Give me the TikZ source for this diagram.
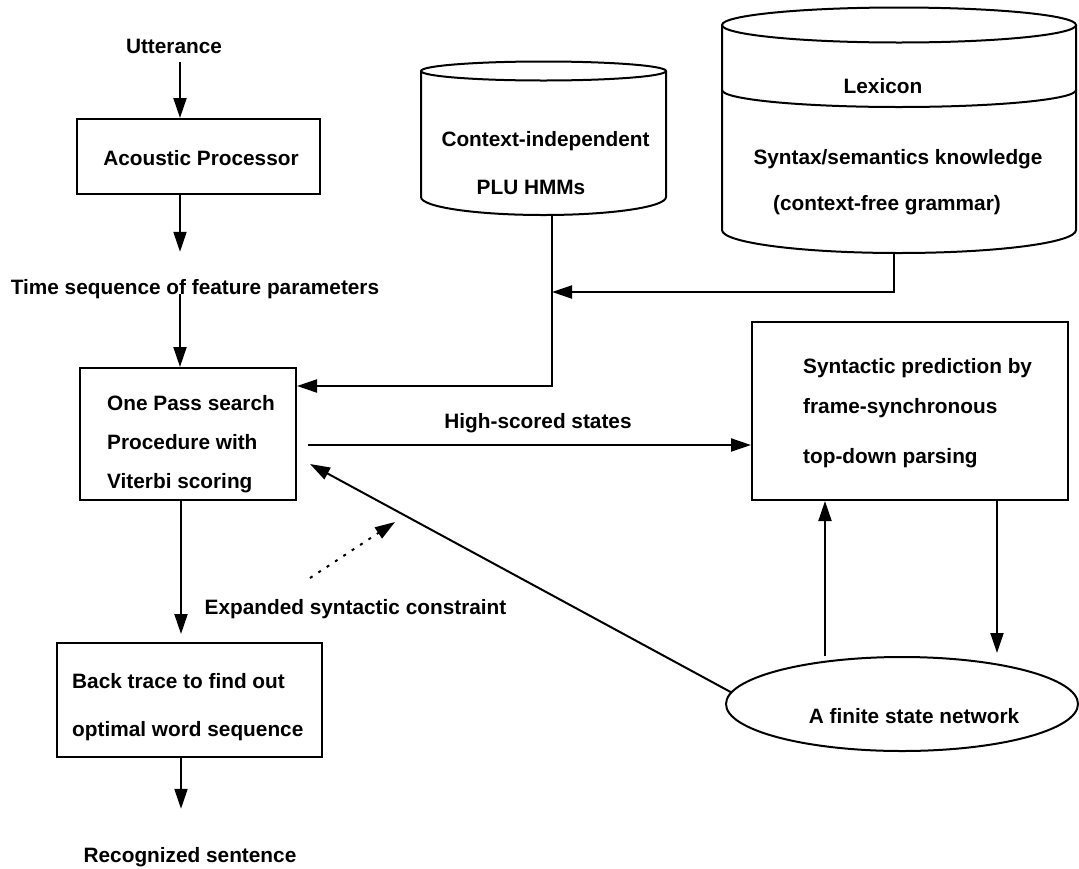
\documentclass[tikz,border=0pt]{standalone}
\usepackage{fontspec}
\setmainfont{Liberation Sans}
\usetikzlibrary{arrows.meta,calc,shapes.geometric}
\begin{document}
\begin{tikzpicture}[x=1pt,y=-1pt,
  every node/.style={font=\fontsize{20.8}{25}\selectfont\bfseries},
  lbl/.style={inner sep=0pt, text height=14.5pt, text depth=0pt},
  box/.style={draw, line width=2pt, inner sep=0pt},
  ln/.style={line width=2pt},
  arr/.style={line width=2pt, -{Triangle[length=20pt,width=13pt]}}]
\useasboundingbox (0,0) rectangle (1079,868);

% ---- boxes ----
\node[box, minimum width=243pt, minimum height=75pt] (ap) at (198.5,156.5) {};
\node[box, minimum width=216pt, minimum height=132pt] (op) at (188,434) {};
\node[box, minimum width=265pt, minimum height=114pt] (bt) at (189.5,700) {};
\node[box, minimum width=316pt, minimum height=178pt] (sp) at (910,411) {};
\node[draw, ellipse, line width=2pt, inner sep=0pt, minimum width=352pt, minimum height=94pt] (fsn) at (902,704) {};

% ---- cylinders ----
\draw[ln] (543.5,71) ellipse [x radius=122.5, y radius=9.5];
\draw[ln] (421,71) -- (421,197) .. controls (421,207) and (475.8,215) .. (543.5,215)
  .. controls (611.2,215) and (666,207) .. (666,197) -- (666,71);
\coordinate (cylAb) at (552,215);

\draw[ln] (899,25) ellipse [x radius=177, y radius=17.5];
\draw[ln] (722,90) .. controls (722,99.4) and (801.2,107) .. (899,107)
  .. controls (996.8,107) and (1076,99.4) .. (1076,90);
\draw[ln] (722,25) -- (722,230) .. controls (722,242.7) and (801.2,253) .. (899,253)
  .. controls (996.8,253) and (1076,242.7) .. (1076,230) -- (1076,25);
\coordinate (cylBb) at (894,253);

% ---- texts ----
\node[lbl] (utter) at (174,46) {Utterance};
\node[lbl] (apt) at (201,158) {Acoustic Processor};
\node[lbl] (tsf) at (195,287) {Time sequence of feature parameters};
\node[lbl, anchor=west] (op1) at (107,403) {One Pass search};
\node[lbl, anchor=west] (op2) at (107,442) {Procedure with};
\node[lbl, anchor=west] (op3) at (107,481) {Viterbi scoring};
\node[lbl, anchor=west] (bt1) at (72,681) {Back trace to find out};
\node[lbl, anchor=west] (bt2) at (72,729) {optimal word sequence};
\node[lbl] (rec) at (190,855) {Recognized sentence};
\node[lbl] (ca1) at (545.5,139) {Context-independent};
\node[lbl] (ca2) at (531,187) {PLU HMMs};
\node[lbl] (cb1) at (883,86) {Lexicon};
\node[lbl] (cb2) at (898,157) {Syntax/semantics knowledge};
\node[lbl] (cb3) at (887,203) {(context-free grammar)};
\node[lbl, anchor=west] (sp1) at (803,366) {Syntactic prediction by};
\node[lbl, anchor=west] (sp2) at (803,406) {frame-synchronous};
\node[lbl, anchor=west] (sp3) at (803,456) {top-down parsing};
\node[lbl] (hs) at (538,421) {High-scored states};
\node[lbl] (exp) at (355.5,607) {Expanded syntactic constraint};
\node[lbl] (fsnt) at (914,716) {A finite state network};

% ---- connectors ----
\coordinate (colA) at (180,0);
\coordinate (colB) at (181,0);
\draw[arr, shorten <=9pt] (utter.south -| colA) -- (ap.north -| colA);
\draw[arr, shorten >=27.75pt] (ap.south -| colA) -- (tsf.north -| colA);
\draw[arr] (tsf.south -| colA) -- (op.north -| colA);
\draw[arr, shorten >=8pt] (op.south -| colB) -- (bt.north -| colB);
\draw[arr, shorten >=38.75pt] (bt.south -| colB) -- (rec.north -| colB);

\coordinate (opIn) at ($(op.north east)+(0,19)$);
\draw[arr] (cylAb) |- (opIn);
\coordinate (joinA) at (552,292);
\draw[arr] (cylBb) |- (joinA);

\coordinate (hsStart) at (308,445);
\draw[arr] (hsStart) -- (hsStart -| sp.west);

\coordinate (diagTip) at (310,464);
\draw[arr] (fsn.176) -- (diagTip);

\coordinate (dotS) at (310,578);
\coordinate (dotE) at (395,522);
\draw[arr, dash pattern=on 3pt off 7pt] (dotS) -- (dotE);

\coordinate (upX) at (825,656);
\draw[arr] (upX) -- (upX |- sp.south);
\coordinate (dnX) at (997,0);
\draw[arr, shorten >=3pt] (sp.south -| dnX) -- (fsn.north -| dnX);
\end{tikzpicture}
\end{document}
